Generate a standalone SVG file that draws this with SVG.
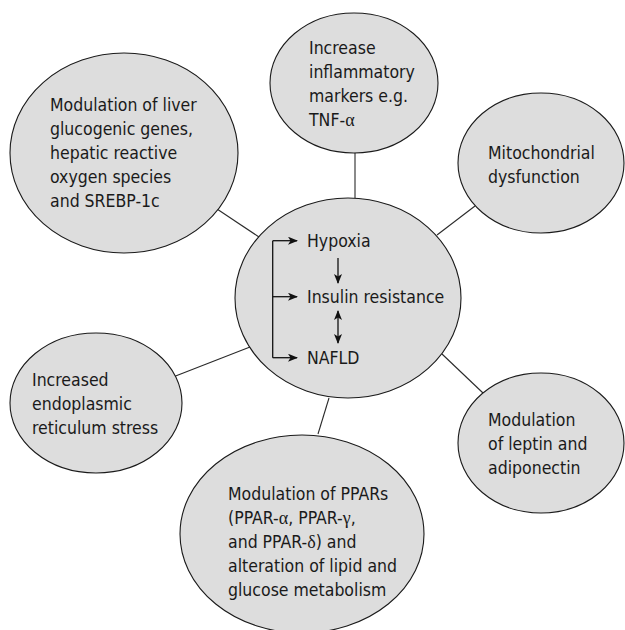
<svg xmlns="http://www.w3.org/2000/svg" width="625" height="630" viewBox="0 0 625 630">
<style>
.node ellipse{fill:#dddddd;stroke:#1a1a1a;stroke-width:1.1}
text{font-family:"DejaVu Sans Condensed","Liberation Sans",Arial,sans-serif;font-stretch:condensed;font-size:17.5px;fill:#1a1a1a}
.g{font-family:"Liberation Serif","Times New Roman",serif;font-stretch:normal;font-size:18px}
.conn line{stroke:#2a2a2a;stroke-width:1.1}
.arr{stroke:#111;stroke-width:1.3;fill:none}
</style>
<defs>
<marker id="ah" viewBox="0 0 10 8" refX="9" refY="4" markerWidth="10" markerHeight="8" markerUnits="userSpaceOnUse" orient="auto-start-reverse">
<path d="M0,0 L10,4 L0,8 L2.5,4 z" fill="#111"/>
</marker>
</defs>
<g id="connectors" class="conn">
<line x1="355" y1="153" x2="355" y2="198"/>
<line x1="217" y1="209" x2="259" y2="237"/>
<line x1="475" y1="206" x2="437" y2="235"/>
<line x1="173" y1="377" x2="250" y2="347"/>
<line x1="442" y1="354" x2="483" y2="393"/>
<line x1="329" y1="398" x2="318" y2="434"/>
</g>
<g id="n-inflammatory" class="node">
<ellipse cx="354" cy="83" rx="84" ry="70"/>
<text x="309" y="54">Increase</text>
<text x="309" y="78">inflammatory</text>
<text x="309" y="102">markers e.g.</text>
<text x="309" y="126">TNF-<tspan class="g">α</tspan></text>
</g>
<g id="n-liver" class="node">
<ellipse cx="124" cy="153" rx="114" ry="100"/>
<text x="50" y="111">Modulation of liver</text>
<text x="50" y="135">glucogenic genes,</text>
<text x="50" y="159">hepatic reactive</text>
<text x="50" y="183">oxygen species</text>
<text x="50" y="207">and SREBP-1c</text>
</g>
<g id="n-mito" class="node">
<ellipse cx="541" cy="163" rx="83" ry="70"/>
<text x="488" y="159">Mitochondrial</text>
<text x="488" y="183">dysfunction</text>
</g>
<g id="n-center" class="node">
<ellipse cx="348" cy="298" rx="113" ry="100"/>
<text x="307" y="247">Hypoxia</text>
<text x="307" y="303">Insulin resistance</text>
<text x="307" y="364">NAFLD</text>
<path class="arr" d="M272.7,240.7 V357.7"/>
<path class="arr" d="M272.7,240.7 H297" marker-end="url(#ah)"/>
<path class="arr" d="M272.7,296.7 H297" marker-end="url(#ah)"/>
<path class="arr" d="M272.7,357.7 H297" marker-end="url(#ah)"/>
<path class="arr" d="M338,258 V283" marker-end="url(#ah)"/>
<path class="arr" d="M338,311 V343" marker-start="url(#ah)" marker-end="url(#ah)"/>
</g>
<g id="n-er" class="node">
<ellipse cx="96" cy="403" rx="86" ry="70"/>
<text x="32" y="386">Increased</text>
<text x="32" y="410">endoplasmic</text>
<text x="32" y="434">reticulum stress</text>
</g>
<g id="n-leptin" class="node">
<ellipse cx="541" cy="443" rx="83" ry="70"/>
<text x="488" y="426">Modulation</text>
<text x="488" y="450">of leptin and</text>
<text x="488" y="474">adiponectin</text>
</g>
<g id="n-ppar" class="node">
<ellipse cx="302" cy="534" rx="122" ry="99"/>
<text x="228" y="500">Modulation of PPARs</text>
<text x="228" y="524">(PPAR-<tspan class="g">α</tspan>, PPAR-<tspan class="g">γ</tspan>,</text>
<text x="228" y="548">and PPAR-<tspan class="g">δ</tspan>) and</text>
<text x="228" y="572">alteration of lipid and</text>
<text x="228" y="596">glucose metabolism</text>
</g>
</svg>
